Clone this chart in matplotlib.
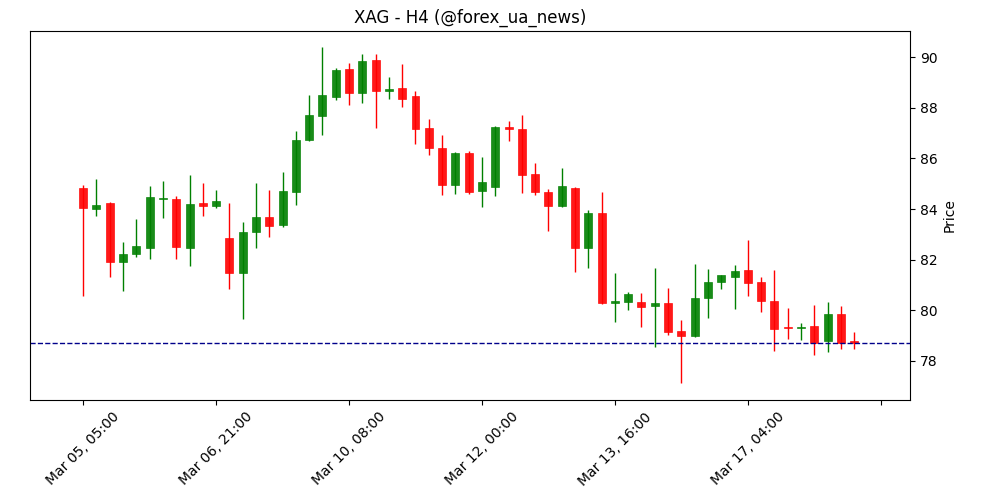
import matplotlib
matplotlib.use("Agg")
from matplotlib import pyplot as plt

# OHLC, H4 candles
opens = [84.83, 84.00, 84.24, 81.91, 82.22, 82.46, 84.39, 84.39, 82.46, 84.24,
         84.12, 82.85, 81.47, 83.09, 83.68, 83.37, 84.67, 86.72, 87.67, 88.42,
         89.53, 88.58, 89.88, 88.68, 88.78, 88.46, 87.20, 86.41, 84.95, 86.21,
         84.71, 84.87, 87.24, 87.16, 85.38, 84.67, 84.12, 84.83, 82.46, 83.84,
         80.29, 80.33, 80.33, 80.17, 80.29, 79.19, 78.99, 80.49, 81.12, 81.31,
         81.59, 81.12, 80.37, 79.34, 79.30, 79.38, 78.79, 79.86, 78.73]
closes = [84.04, 84.16, 81.91, 82.22, 82.54, 84.47, 84.45, 82.50, 84.20, 84.12,
          84.31, 81.47, 83.09, 83.68, 83.33, 84.71, 86.72, 87.71, 88.50, 89.49,
          88.58, 89.84, 88.66, 88.72, 88.34, 87.16, 86.41, 84.95, 86.21, 84.67,
          85.07, 87.24, 87.16, 85.34, 84.67, 84.12, 84.91, 82.46, 83.84, 80.29,
          80.33, 80.64, 80.13, 80.29, 79.15, 78.99, 80.49, 81.12, 81.39, 81.55,
          81.08, 80.37, 79.26, 79.30, 79.34, 78.71, 79.86, 78.71, 78.71]
highs = [84.95, 85.18, 84.28, 82.70, 83.60, 84.90, 85.10, 84.50, 85.34, 85.03,
         84.75, 84.24, 83.49, 85.03, 84.75, 85.46, 87.08, 88.50, 90.39, 89.57,
         89.76, 90.12, 90.12, 89.21, 89.72, 88.66, 87.55, 86.92, 86.25, 86.29,
         86.05, 87.28, 87.47, 87.71, 85.82, 84.79, 85.62, 84.87, 83.96, 84.67,
         81.47, 80.72, 80.68, 81.67, 80.88, 79.62, 81.83, 81.63, 81.39, 81.79,
         82.78, 81.31, 81.59, 80.09, 79.50, 80.21, 80.33, 80.17, 79.15]
lows = [80.56, 83.72, 81.31, 80.76, 82.10, 82.03, 83.64, 82.03, 81.75, 83.72,
        84.04, 80.84, 79.66, 82.46, 82.89, 83.29, 84.16, 86.68, 86.92, 88.30,
        88.10, 88.18, 87.20, 88.34, 88.03, 86.57, 86.13, 84.55, 84.59, 84.60,
        84.08, 84.51, 86.68, 84.63, 84.55, 83.13, 84.08, 81.51, 81.67, 80.25,
        79.54, 80.01, 79.34, 78.55, 79.03, 77.13, 78.95, 79.70, 80.84, 80.05,
        80.56, 79.94, 78.40, 78.87, 78.83, 78.24, 78.36, 78.47, 78.47]
level = 78.71
tick_labels = ["Mar 05, 05:00", "Mar 06, 21:00", "Mar 10, 08:00", "Mar 12, 00:00",
               "Mar 13, 16:00", "Mar 17, 04:00", ""]

fig = plt.figure(figsize=(10, 5), dpi=100)
ax = fig.add_axes([0.03, 0.2, 0.88, 0.738])

for i in range(len(opens)):
    o, c, h, l = opens[i], closes[i], highs[i], lows[i]
    col = "green" if c >= o else "red"
    ax.vlines(i, l, h, color=col, linewidth=1)
    ax.bar(i, max(abs(c - o), 0.06), bottom=min(o, c), width=0.6,
           color=col, alpha=0.9, edgecolor=col, linewidth=0.5)

ax.axhline(level, color="darkblue", linestyle="--", linewidth=1)

ax.set_xticks(range(0, 70, 10))
ax.set_xticklabels(tick_labels, rotation=45)
ax.set_xlim(-4, 62.2)
ax.set_ylim(76.46, 91.03)
ax.yaxis.tick_right()
ax.yaxis.set_label_position("right")
ax.set_ylabel("Price")
ax.set_title("XAG - H4 (@forex_ua_news)")

plt.savefig("out.png")
